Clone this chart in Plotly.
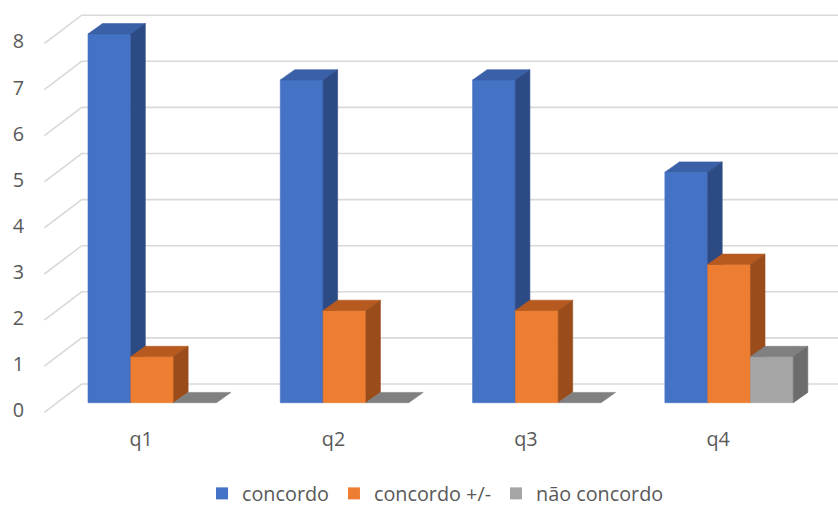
import plotly.graph_objects as go

# ---------------- data ----------------
categories = ["q1", "q2", "q3", "q4"]
series_names = ["concordo", "concordo +/-", "não concordo"]
concordo = [8, 7, 7, 5]
concordo_mais_menos = [1, 2, 2, 3]
nao_concordo = [0, 0, 0, 1]
y_ticks = [0, 1, 2, 3, 4, 5, 6, 7, 8]

series_values = [concordo, concordo_mais_menos, nao_concordo]

# ---------------- style ----------------
front_colors = ["#4472C4", "#ED7D31", "#A5A5A5"]
top_colors = ["#3A60A8", "#B65A20", "#808080"]
side_colors = ["#2C4A84", "#9A4C1B", "#6C6C6C"]
text_color = "#595959"
grid_color = "#D9D9D9"
FONT = "Open Sans"
FSIZE = 19.8

W, H = 838, 506
LEGEND_TOP = 474            # px from top; plot area ends here (legend reserves the rest)
PX_PER_UNIT = 46.1
ZERO_PX = 402.7             # px of value 0 at the column fronts
BAR_W = 0.2226              # width of one column (category units)
DX, DY = 0.0754, 0.2234     # 3-D depth offsets (x units, value units)
X_RANGE = [-0.7915, 3.5663]
Y_RANGE = [-(LEGEND_TOP - ZERO_PX) / PX_PER_UNIT, ZERO_PX / PX_PER_UNIT]
# back wall / side wall geometry
WALL_FRONT_X, WALL_FRONT_DY = -0.5611, -0.2082
WALL_BACK_X, WALL_BACK_DY = -0.3666, 0.4056
WALL_END_X = 3.7
TICK_LABEL_X = -0.667
CAT_LABEL_DX, CAT_LABEL_Y = -0.057, -0.831

fig = go.Figure()

# gridlines (floor/wall projection)
gx, gy = [], []
for t in y_ticks:
    gx += [WALL_FRONT_X, WALL_BACK_X, WALL_END_X, None]
    gy += [t + WALL_FRONT_DY, t + WALL_BACK_DY, t + WALL_BACK_DY, None]
fig.add_trace(go.Scatter(x=gx, y=gy, mode="lines",
                         line=dict(color=grid_color, width=1.6),
                         hoverinfo="skip", showlegend=False))


def poly(xs, ys, color):
    fig.add_trace(go.Scatter(x=xs + [xs[0]], y=ys + [ys[0]], mode="lines",
                             fill="toself", fillcolor=color,
                             line=dict(color=color, width=0.6),
                             hoverinfo="skip", showlegend=False))


n_series = len(series_values)
for i, cat in enumerate(categories):
    for s in range(n_series):
        v = series_values[s][i]
        x0 = i - n_series * BAR_W / 2 + s * BAR_W
        x1 = x0 + BAR_W
        if v > 0:
            poly([x0, x1, x1, x0], [0, 0, v, v], front_colors[s])
        poly([x0, x1, x1 + DX, x0 + DX], [v, v, v + DY, v + DY], top_colors[s])
        if v > 0:
            poly([x1, x1 + DX, x1 + DX, x1], [0, DY, v + DY, v], side_colors[s])

# value-axis tick labels
fig.add_trace(go.Scatter(x=[TICK_LABEL_X] * len(y_ticks),
                         y=[t + WALL_FRONT_DY for t in y_ticks],
                         text=[str(t) for t in y_ticks], mode="text",
                         textposition="middle left",
                         textfont=dict(family=FONT, size=FSIZE, color=text_color),
                         hoverinfo="skip", showlegend=False))

# category labels
fig.add_trace(go.Scatter(x=[i + CAT_LABEL_DX for i in range(len(categories))],
                         y=[CAT_LABEL_Y] * len(categories),
                         text=categories, mode="text",
                         textposition="middle center",
                         textfont=dict(family=FONT, size=FSIZE, color=text_color),
                         hoverinfo="skip", showlegend=False))

# legend entries
for s, name in enumerate(series_names):
    fig.add_trace(go.Scatter(x=[None], y=[None], mode="markers", name=name,
                             marker=dict(symbol="square", size=12,
                                         color=front_colors[s]),
                             hoverinfo="skip"))

fig.update_layout(
    width=W, height=H, autosize=False,
    margin=dict(l=0, r=0, t=0, b=0),
    paper_bgcolor="white", plot_bgcolor="white",
    xaxis=dict(range=X_RANGE, visible=False, fixedrange=True),
    yaxis=dict(range=Y_RANGE, visible=False, fixedrange=True),
    showlegend=True,
    legend=dict(orientation="h", x=(222 - 20) / W, xanchor="left",
                yref="container", y=1 - LEGEND_TOP / H, yanchor="top",
                font=dict(family=FONT, size=FSIZE, color=text_color),
                bgcolor="rgba(0,0,0,0)", itemclick=False, itemdoubleclick=False),
    font=dict(family=FONT, color=text_color),
)

fig.write_html("out.html")
